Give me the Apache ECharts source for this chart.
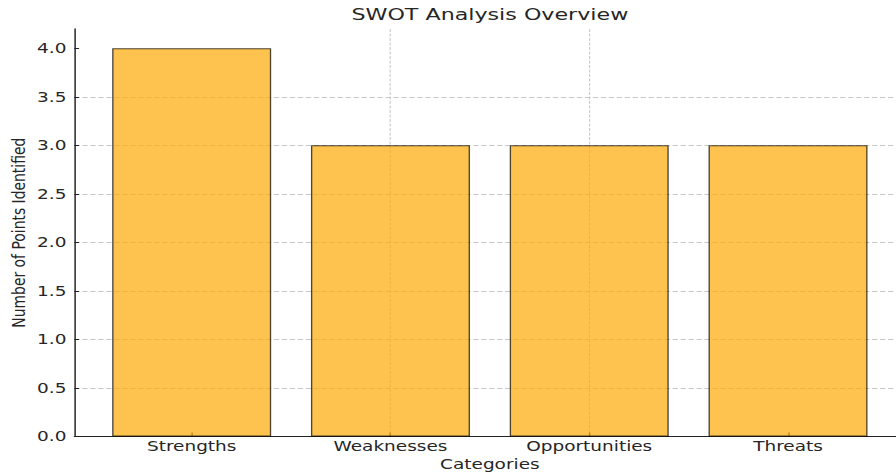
<!DOCTYPE html>
<html>
<head>
<meta charset="utf-8">
<script src="https://cdn.jsdelivr.net/npm/echarts@6/dist/echarts.min.js"></script>
<style>
  html, body { margin: 0; padding: 0; background: #fff; overflow: hidden; }
  #wrap { width: 896px; height: 473px; overflow: hidden; position: relative; }
  #chart { position: absolute; left: 0; top: 0; transform-origin: 0 0; }
</style>
</head>
<body>
<div id="wrap"><div id="chart"></div></div>
<script>
// ---- data ----
const categories = ['Strengths', 'Weaknesses', 'Opportunities', 'Threats'];
const pointCounts = [4, 3, 3, 3];
const yTickValues = [0, 0.5, 1, 1.5, 2, 2.5, 3, 3.5, 4];
const titleText = 'SWOT Analysis Overview';
const xAxisTitle = 'Categories';
const yAxisTitle = 'Number of Points Identified';

// ---- layout (the reference is horizontally stretched; reproduce via CSS scale) ----
const SX = 896 / 674;
const W = 674, H = 473;
const el = document.getElementById('chart');
el.style.width = W + 'px';
el.style.height = H + 'px';
el.style.transform = 'scale(' + SX + ',1)';

const xMin = -0.59, xMax = 3.59;
const gridLeft = 74.4 / SX;
const gridRightEdge = 905.3 / SX;
const gridRight = W - gridRightEdge;
const gridTop = 28.9;
const gridBottom = H - 436.5;
const plotW = gridRightEdge - gridLeft;
const barW = 0.8 * plotW / (xMax - xMin);

const font = 'DejaVu Sans';
const textColor = '#262626';
const gridColor = 'rgba(176,176,176,0.7)';

const chart = echarts.init(el, null, { renderer: 'svg' });
chart.setOption({
  animation: false,
  backgroundColor: '#fff',
  title: {
    text: titleText,
    left: (gridLeft + gridRightEdge) / 2,
    textAlign: 'center',
    top: 6,
    padding: 0,
    textStyle: { fontFamily: font, fontSize: 16.7, fontWeight: 'normal', color: textColor }
  },
  grid: { left: gridLeft, right: gridRight, top: gridTop, bottom: gridBottom, containLabel: false, outerBoundsMode: 'none' },
  xAxis: {
    type: 'value',
    min: xMin,
    max: xMax,
    splitNumber: 4,
    name: xAxisTitle,
    nameLocation: 'middle',
    nameGap: 21,
    nameMoveOverlap: false,
    nameTextStyle: { fontFamily: font, fontSize: 13.9, color: textColor },
    axisLine: { show: true, onZero: false, lineStyle: { color: '#222', width: 1.1 } },
    axisTick: { show: true, inside: true, length: 4, customValues: [0, 1, 2, 3], lineStyle: { color: '#222', width: 1 } },
    axisLabel: {
      customValues: [0, 1, 2, 3],
      formatter: v => categories[Math.round(v)],
      fontFamily: font, fontSize: 13.9, color: textColor, margin: 3
    },
    splitLine: { show: true, showMinLine: false, showMaxLine: false, lineStyle: { color: gridColor, type: [3, 1.5], width: 0.8 } }
  },
  yAxis: {
    type: 'value',
    min: 0,
    max: 4.2,
    interval: 0.5,
    name: yAxisTitle,
    nameLocation: 'middle',
    nameGap: 35,
    nameMoveOverlap: false,
    nameTextStyle: { fontFamily: font, fontSize: 13.9, color: textColor },
    axisLine: { show: true, onZero: false, lineStyle: { color: '#222', width: 1.1 } },
    axisTick: { show: true, inside: true, length: 3.5, customValues: yTickValues, lineStyle: { color: '#222', width: 1 } },
    axisLabel: {
      customValues: yTickValues,
      formatter: v => v.toFixed(1),
      fontFamily: font, fontSize: 13.9, color: textColor, margin: 6
    },
    splitLine: { show: true, showMinLine: false, showMaxLine: false, lineStyle: { color: gridColor, type: [4, 2], width: 0.8 } }
  },
  series: [{
    type: 'bar',
    data: pointCounts.map((v, i) => [i, v]),
    barWidth: barW,
    itemStyle: { color: 'rgba(252,172,10,0.72)', borderColor: 'rgba(0,0,0,0.7)', borderWidth: 1 }
  }]
});
</script>
</body>
</html>
